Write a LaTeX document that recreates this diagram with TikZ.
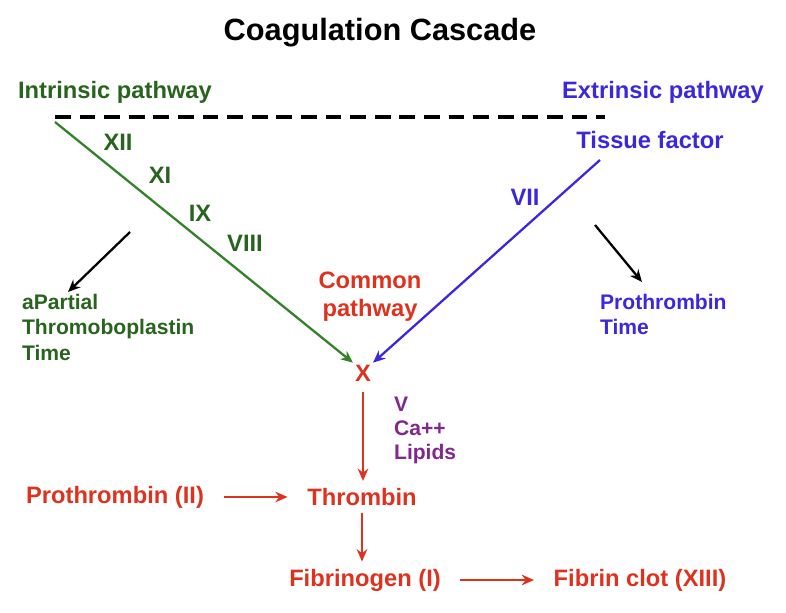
\documentclass[tikz,border=0pt]{standalone}
\usepackage{fontspec}
\setmainfont{Liberation Sans}
\usetikzlibrary{positioning,arrows.meta}
\definecolor{igreen}{RGB}{40,100,30}
\definecolor{arrgreen}{RGB}{50,130,40}
\definecolor{eblue}{RGB}{60,40,220}
\definecolor{cred}{RGB}{220,50,30}
\definecolor{cpurple}{RGB}{130,40,140}
\tikzset{
  lbl/.style={font=\bfseries\fontsize{13.5}{16}\selectfont, inner sep=1pt},
  small/.style={font=\bfseries\fontsize{12}{14.5}\selectfont, inner sep=1pt, align=left},
  flow/.style={-{Stealth[length=7pt,width=6pt]}, line width=1.3pt}
}
\begin{document}
\begin{tikzpicture}[x=0.02cm,y=-0.02cm]
        \useasboundingbox (0,0) rectangle (786,612);

        % Title
        \node[font=\bfseries\fontsize{17.5}{20}\selectfont] (title) at (380,33) {Coagulation Cascade};

        % Pathway headers
        \node[lbl, igreen] (intr) at (115,92) {Intrinsic pathway};
        \node[lbl, eblue] (extr) at (663,92) {Extrinsic pathway};
        \coordinate (dl) at (55,117);
        \coordinate (dr) at (605,117);
        \draw[line width=2pt, dash pattern=on 9pt off 5pt] (dl) -- (dr);

        % Intrinsic factors
        \node[lbl, igreen] (f12) at (118,142) {XII};
        \node[lbl, igreen] (f11) at (160,175) {XI};
        \node[lbl, igreen] (f9) at (200,213) {IX};
        \node[lbl, igreen] (f8) at (245,243) {VIII};

        % Extrinsic factors
        \node[lbl, eblue] (tf) at (650,140) {Tissue factor};
        \node[lbl, eblue] (f7) at (525,197) {VII};

        % Common pathway
        \node[lbl, cred, align=center] (common) at (370,297) {Common\\pathway};
        \node[lbl, cred] (x) at (363,373) {X};
        \node[small, cpurple, anchor=north west, font=\bfseries\fontsize{12}{13.5}\selectfont] (cof) at (392,395) {V\\Ca++\\Lipids};
        \node[lbl, cred] (thr) at (362,497) {Thrombin};
        \node[lbl, cred] (proth) at (115,497) {Prothrombin (II)};
        \node[lbl, cred] (fbg) at (365,580) {Fibrinogen (I)};
        \node[lbl, cred] (fib) at (640,580) {Fibrin clot (XIII)};

        % Tests
        \node[small, igreen, anchor=north west] (aptt) at (20,292) {aPartial\\Thromoboplastin\\Time};
        \node[small, eblue, anchor=north west] (pt) at (598,292) {Prothrombin\\Time};

        % Arrows
        \coordinate (istart) at (55,122);
        \coordinate (estart) at (600,160);
        \draw[flow, arrgreen] (istart) -- (x.north west);
        \draw[flow, eblue] (estart) -- (x.north east);
        \coordinate (a1) at (130,232);
        \coordinate (a2) at (68,292);
        \coordinate (b1) at (595,225);
        \coordinate (b2) at (642,282);
        \draw[flow, black] (a1) -- (a2);
        \draw[flow, black] (b1) -- (b2);
        \draw[flow, cred, shorten <=5pt, shorten >=3pt] (x.south) -- (x.south |- thr.north);
        \draw[flow, cred, shorten <=10pt, shorten >=10pt] (proth) -- (thr);
        \draw[flow, cred, shorten <=3pt, shorten >=3pt] (thr.south) -- (thr.south |- fbg.north);
        \draw[flow, cred, shorten <=10pt, shorten >=10pt] (fbg) -- (fib);
    \end{tikzpicture}
\end{document}
